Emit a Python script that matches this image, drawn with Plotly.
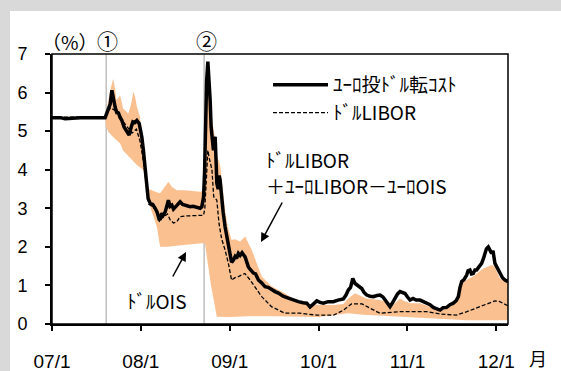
import plotly.graph_objects as go

# ---------------- data (x in decimal years, y in %) ----------------
tick_years = [2007, 2008, 2009, 2010, 2011, 2012]
tick_labels = ["07/1", "08/1", "09/1", "10/1", "11/1", "12/1"]
y_ticks = [0, 1, 2, 3, 4, 5, 6, 7]
event_years = [2007.610, 2008.712]
event_labels = ["①", "②"]

# ユーロ投ドル転コスト (thick black line)
euro_dollar_cost = [
    (2007.000, 5.35), (2007.092, 5.35), (2007.148, 5.32), (2007.261, 5.33), (2007.317, 5.35),
    (2007.598, 5.35), (2007.615, 5.45), (2007.636, 5.55), (2007.655, 5.70), (2007.674, 6.06),
    (2007.688, 5.85), (2007.711, 5.62), (2007.733, 5.45), (2007.745, 5.49), (2007.767, 5.35),
    (2007.786, 5.28), (2007.812, 5.10), (2007.843, 4.98), (2007.868, 4.90), (2007.891, 5.10),
    (2007.910, 5.24), (2007.930, 5.22), (2007.955, 5.28), (2007.981, 5.20), (2007.998, 5.00),
    (2008.011, 4.85), (2008.029, 4.50), (2008.048, 3.99), (2008.068, 3.47), (2008.082, 3.25),
    (2008.105, 3.13), (2008.133, 3.10), (2008.161, 3.00), (2008.183, 2.90), (2008.209, 2.69),
    (2008.223, 2.80), (2008.236, 2.87), (2008.251, 2.82), (2008.273, 2.90), (2008.292, 3.05),
    (2008.310, 3.21), (2008.329, 3.05), (2008.349, 3.08), (2008.367, 2.98), (2008.386, 3.03),
    (2008.414, 3.10), (2008.442, 3.17), (2008.470, 3.10), (2008.498, 3.08), (2008.526, 3.06),
    (2008.555, 3.04), (2008.588, 3.05), (2008.630, 3.03), (2008.667, 3.00), (2008.686, 3.04),
    (2008.706, 3.30), (2008.718, 4.00), (2008.726, 5.37), (2008.740, 6.30), (2008.754, 6.80),
    (2008.768, 6.30), (2008.780, 5.80), (2008.791, 5.10), (2008.799, 4.85), (2008.817, 4.50),
    (2008.828, 4.80), (2008.836, 4.85), (2008.847, 4.20), (2008.855, 3.65), (2008.870, 3.50),
    (2008.881, 3.85), (2008.892, 3.73), (2008.911, 3.21), (2008.926, 2.90), (2008.948, 2.52),
    (2008.967, 2.30), (2008.985, 2.09), (2009.004, 1.83), (2009.021, 1.60), (2009.042, 1.66),
    (2009.061, 1.75), (2009.077, 1.70), (2009.098, 1.83), (2009.117, 1.78), (2009.139, 1.85),
    (2009.173, 1.74), (2009.210, 1.48), (2009.229, 1.42), (2009.267, 1.32), (2009.291, 1.30),
    (2009.323, 1.14), (2009.353, 1.08), (2009.398, 0.97), (2009.432, 0.95), (2009.474, 0.88),
    (2009.511, 0.84), (2009.548, 0.80), (2009.601, 0.72), (2009.660, 0.67), (2009.713, 0.62),
    (2009.773, 0.58), (2009.826, 0.55), (2009.867, 0.54), (2009.904, 0.44), (2009.938, 0.52),
    (2009.980, 0.60), (2010.017, 0.56), (2010.054, 0.54), (2010.107, 0.58), (2010.166, 0.58),
    (2010.219, 0.62), (2010.279, 0.65), (2010.309, 0.75), (2010.335, 0.88), (2010.360, 0.95),
    (2010.385, 1.18), (2010.411, 1.05), (2010.444, 1.00), (2010.486, 0.92), (2010.512, 0.82),
    (2010.542, 0.75), (2010.579, 0.72), (2010.616, 0.71), (2010.658, 0.74), (2010.692, 0.75),
    (2010.725, 0.70), (2010.748, 0.62), (2010.782, 0.50), (2010.804, 0.45), (2010.832, 0.55),
    (2010.860, 0.66), (2010.889, 0.78), (2010.917, 0.84), (2010.945, 0.82), (2010.973, 0.79),
    (2011.001, 0.70), (2011.030, 0.62), (2011.063, 0.66), (2011.097, 0.62), (2011.142, 0.62),
    (2011.182, 0.58), (2011.217, 0.54), (2011.254, 0.50), (2011.291, 0.43), (2011.327, 0.40),
    (2011.367, 0.36), (2011.401, 0.42), (2011.442, 0.43), (2011.479, 0.50), (2011.516, 0.54),
    (2011.547, 0.60), (2011.573, 0.71), (2011.592, 0.95), (2011.611, 1.10), (2011.637, 1.15),
    (2011.667, 1.27), (2011.682, 1.38), (2011.704, 1.40), (2011.721, 1.30), (2011.741, 1.31),
    (2011.760, 1.40), (2011.779, 1.40), (2011.805, 1.48), (2011.835, 1.57), (2011.856, 1.70),
    (2011.872, 1.83), (2011.889, 1.95), (2011.910, 2.00), (2011.929, 1.90), (2011.948, 1.83),
    (2011.963, 1.90), (2011.985, 1.57), (2012.013, 1.45), (2012.041, 1.31), (2012.070, 1.20),
    (2012.098, 1.14), (2012.132, 1.10),
]

# ドルLIBOR (dashed line)
dollar_libor = [
    (2007.000, 5.36), (2007.598, 5.36), (2007.620, 5.50), (2007.660, 5.60), (2007.700, 5.55),
    (2007.750, 5.50), (2007.800, 5.25), (2007.850, 5.10), (2007.900, 4.95), (2007.950, 5.05),
    (2007.990, 4.75), (2008.030, 4.20), (2008.060, 3.60), (2008.090, 3.10), (2008.130, 3.05),
    (2008.170, 2.95), (2008.210, 2.65), (2008.240, 2.75), (2008.280, 2.82), (2008.300, 2.85),
    (2008.330, 2.70), (2008.367, 2.62), (2008.405, 2.65), (2008.440, 2.78), (2008.500, 2.80),
    (2008.600, 2.81), (2008.706, 2.82), (2008.720, 3.00), (2008.740, 3.80), (2008.754, 4.50),
    (2008.770, 4.30), (2008.800, 4.00), (2008.820, 3.30), (2008.855, 3.21), (2008.880, 2.60),
    (2008.910, 2.20), (2008.948, 1.92), (2008.985, 1.57), (2009.021, 1.14), (2009.060, 1.20),
    (2009.098, 1.23), (2009.170, 1.31), (2009.230, 1.14), (2009.360, 0.71), (2009.470, 0.45),
    (2009.620, 0.28), (2009.790, 0.28), (2009.980, 0.23), (2010.170, 0.23), (2010.280, 0.36),
    (2010.370, 0.52), (2010.490, 0.52), (2010.580, 0.41), (2010.690, 0.28), (2010.920, 0.32),
    (2011.220, 0.32), (2011.370, 0.26), (2011.550, 0.23), (2011.670, 0.32), (2011.850, 0.47),
    (2011.985, 0.60), (2012.040, 0.58), (2012.132, 0.47),
]

# ドルLIBOR＋ユーロLIBOR－ユーロOIS (upper edge of band)
band_upper = [
    (2007.000, 5.37), (2007.598, 5.37), (2007.620, 5.60), (2007.650, 6.00), (2007.688, 6.36),
    (2007.710, 6.10), (2007.726, 5.80), (2007.767, 5.93), (2007.800, 5.59), (2007.860, 5.46),
    (2007.895, 5.75), (2007.916, 6.02), (2007.935, 5.90), (2007.955, 5.63), (2007.990, 5.37),
    (2008.011, 5.00), (2008.030, 4.60), (2008.048, 4.10), (2008.068, 3.60), (2008.090, 3.50),
    (2008.130, 3.45), (2008.170, 3.42), (2008.217, 3.39), (2008.250, 3.50), (2008.310, 3.69),
    (2008.350, 3.55), (2008.405, 3.47), (2008.500, 3.47), (2008.600, 3.45), (2008.667, 3.43),
    (2008.706, 3.45), (2008.720, 4.20), (2008.735, 5.50), (2008.754, 6.50), (2008.770, 6.00),
    (2008.799, 5.28), (2008.830, 4.90), (2008.850, 4.40), (2008.892, 4.12), (2008.920, 3.50),
    (2008.948, 2.95), (2008.980, 2.50), (2009.021, 2.18), (2009.060, 2.20), (2009.117, 2.14),
    (2009.173, 2.27), (2009.210, 2.10), (2009.248, 1.92), (2009.300, 1.60), (2009.360, 1.23),
    (2009.474, 0.97), (2009.620, 0.80), (2009.790, 0.55), (2009.950, 0.50), (2010.170, 0.49),
    (2010.280, 0.52), (2010.335, 0.66), (2010.410, 0.80), (2010.450, 0.75), (2010.540, 0.66),
    (2010.690, 0.62), (2010.750, 0.58), (2010.800, 0.41), (2010.860, 0.55), (2010.917, 0.66),
    (2010.960, 0.60), (2011.030, 0.54), (2011.142, 0.54), (2011.250, 0.45), (2011.367, 0.32),
    (2011.450, 0.42), (2011.547, 0.54), (2011.580, 0.80), (2011.611, 1.05), (2011.670, 1.15),
    (2011.741, 1.23), (2011.800, 1.35), (2011.856, 1.44), (2011.948, 1.53), (2011.980, 1.50),
    (2012.041, 1.18), (2012.132, 1.05),
]

# ドルOIS (lower edge of band)
dollar_ois = [
    (2007.000, 5.33), (2007.598, 5.33), (2007.610, 5.10), (2007.636, 4.98), (2007.688, 4.85),
    (2007.767, 4.68), (2007.800, 4.50), (2007.870, 4.34), (2007.955, 4.12), (2008.029, 3.99),
    (2008.050, 3.60), (2008.070, 3.30), (2008.142, 2.78), (2008.180, 2.52), (2008.217, 2.00),
    (2008.300, 2.00), (2008.480, 2.05), (2008.667, 2.09), (2008.720, 2.10), (2008.790, 1.00),
    (2008.855, 0.19), (2009.000, 0.18), (2009.200, 0.20), (2009.500, 0.20), (2009.790, 0.19),
    (2010.000, 0.18), (2010.335, 0.28), (2010.500, 0.24), (2010.930, 0.19), (2011.200, 0.15),
    (2011.667, 0.10), (2012.132, 0.10),
]


def xs(pts):
    return [p[0] for p in pts]


def ys(pts):
    return [p[1] for p in pts]


JP = "Noto Sans CJK JP"
NUM = "Liberation Sans, Arial, sans-serif"
BAND = "#FAC090"

fig = go.Figure()

fig.add_trace(go.Scatter(x=xs(dollar_ois), y=ys(dollar_ois), mode="lines",
                         line=dict(width=0, color=BAND), showlegend=False, hoverinfo="skip"))
fig.add_trace(go.Scatter(x=xs(band_upper), y=ys(band_upper), mode="lines", fill="tonexty",
                         fillcolor=BAND, line=dict(width=0, color=BAND),
                         showlegend=False, hoverinfo="skip"))
fig.add_trace(go.Scatter(x=xs(euro_dollar_cost), y=ys(euro_dollar_cost), mode="lines",
                         name="ﾕｰﾛ投ﾄﾞﾙ転ｺｽﾄ", line=dict(color="black", width=3.5)))
fig.add_trace(go.Scatter(x=xs(dollar_libor), y=ys(dollar_libor), mode="lines",
                         name="ﾄﾞﾙLIBOR", line=dict(color="black", width=1.3, dash="4px,2px")))

# event lines
for ev in event_years:
    fig.add_shape(type="line", xref="x", yref="y", x0=ev, x1=ev, y0=0, y1=7,
                  line=dict(color="#BFBFBF", width=1.5), layer="below")

# white panel and plot frame
fig.add_shape(type="rect", xref="paper", yref="paper", x0=-0.0921, x1=1.2, y0=-0.2, y1=1.159,
              fillcolor="white", line=dict(width=0), layer="below")
fig.add_shape(type="rect", xref="paper", yref="paper", x0=0, x1=1, y0=0, y1=1,
              line=dict(color="black", width=1.5))

W, H, L, T = 456.0, 270.0, 52.0, 54.0


def px(xp):
    return (xp - L) / W


def py(yp):
    return (T + H - yp) / H


ann = [
    dict(text="（%）", x=px(70), y=py(41), font=dict(family=JP, size=19, color="black")),
    dict(text=event_labels[0], x=px(107), y=py(40), font=dict(family=JP, size=21, color="black")),
    dict(text=event_labels[1], x=px(206), y=py(40), font=dict(family=JP, size=21, color="black")),
    dict(text="月", x=px(538), y=py(358), font=dict(family=JP, size=18, color="black")),
    dict(text="ﾄﾞﾙLIBOR", x=px(264), y=py(159), xanchor="left",
         font=dict(family=JP, size=19, color="black")),
    dict(text="＋ﾕｰﾛLIBOR－ﾕｰﾛOIS", x=px(264), y=py(185), xanchor="left",
         font=dict(family=JP, size=19, color="black")),
    dict(text="ﾄﾞﾙOIS", x=px(157), y=py(300), font=dict(family=JP, size=19, color="black")),
]
for a in ann:
    a.setdefault("xanchor", "center")
    fig.add_annotation(xref="paper", yref="paper", showarrow=False, yanchor="middle", **a)

# arrows
fig.add_annotation(xref="paper", yref="paper", axref="pixel", ayref="pixel",
                   x=px(261), y=py(242), ax=22, ay=-41, text="", showarrow=True,
                   arrowhead=2, arrowsize=1.2, arrowwidth=1.5, arrowcolor="black")
fig.add_annotation(xref="paper", yref="paper", axref="pixel", ayref="pixel",
                   x=px(186), y=py(252), ax=-14, ay=26, text="", showarrow=True,
                   arrowhead=2, arrowsize=1.2, arrowwidth=1.5, arrowcolor="black")

fig.update_layout(
    width=561, height=371,
    margin=dict(l=52, r=53, t=54, b=47, autoexpand=False),
    paper_bgcolor="#D9D9D9",
    plot_bgcolor="white",
    font=dict(color="black"),
    showlegend=True,
    legend=dict(x=px(268), y=py(66), xanchor="left", yanchor="top", traceorder="normal",
                font=dict(family=JP, size=19, color="black"),
                bgcolor="rgba(0,0,0,0)", itemwidth=55, tracegroupgap=0),
    xaxis=dict(range=[2007.0, 2012.132], tickvals=tick_years, ticktext=tick_labels,
               showgrid=False, zeroline=False, showline=True, linecolor="black", linewidth=2,
               ticks="outside", ticklen=5, tickwidth=1.5, tickcolor="black", automargin=False,
               tickfont=dict(family=NUM, size=19, color="black"), ticklabelstandoff=14),
    yaxis=dict(range=[0, 7], tickvals=y_ticks, showgrid=False, zeroline=False,
               showline=True, linecolor="black", linewidth=2, automargin=False,
               ticks="outside", ticklen=5, tickwidth=1.5, tickcolor="black",
               tickfont=dict(family=NUM, size=18, color="black"), ticklabelstandoff=14),
)

fig.write_html("out.html", config={"displayModeBar": False},
               post_script="document.body.style.margin='0px';document.body.style.overflow='hidden';")
